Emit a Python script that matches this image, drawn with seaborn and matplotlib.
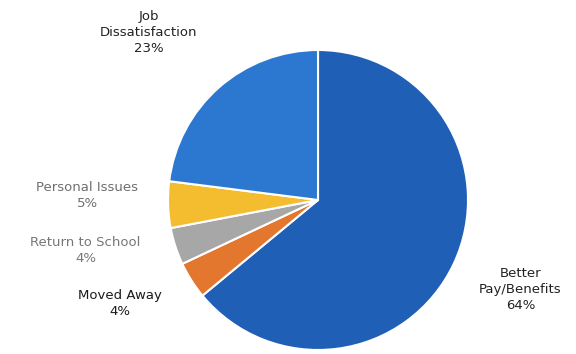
import matplotlib
matplotlib.use("Agg")
import matplotlib.pyplot as plt
import seaborn as sns

# Reasons for leaving (share of responses, %)
reasons = ["Better\nPay/Benefits", "Moved Away", "Return to School",
           "Personal Issues", "Job\nDissatisfaction"]
shares = [64, 4, 4, 5, 23]
slice_colors = ["#1f5fb6", "#e2772d", "#a7a7a7", "#f4bd2f", "#2c78d0"]

# label placement in pie units (radius = 1), kept apart from the data
label_pos = [(1.35, -0.60), (-1.32, -0.69), (-1.55, -0.34),
             (-1.54, 0.03), (-1.13, 1.12)]
label_colors = ["#222222", "#1a1a1a", "#777777", "#6e6e6e", "#222222"]

sns.set_theme(style="white")
plt.rcParams["font.family"] = ["DejaVu Sans"]

fig = plt.figure(figsize=(5.76, 3.54), dpi=100)
ax = fig.add_axes([0.2917, 0.0113, 0.5208, 0.8475])

wedges, _ = ax.pie(shares, colors=slice_colors, startangle=90, counterclock=False,
                   radius=1.0, wedgeprops=dict(edgecolor="white", linewidth=1.5))
ax.set_xlim(-1, 1)
ax.set_ylim(-1, 1)
ax.set_aspect("equal")
ax.axis("off")

for name, val, (x, y), c in zip(reasons, shares, label_pos, label_colors):
    ax.text(x, y, f"{name}\n{val}%", ha="center", va="center", fontsize=9.5,
            color=c, linespacing=1.3, clip_on=False)

fig.savefig("out.png", dpi=100, facecolor="white")
